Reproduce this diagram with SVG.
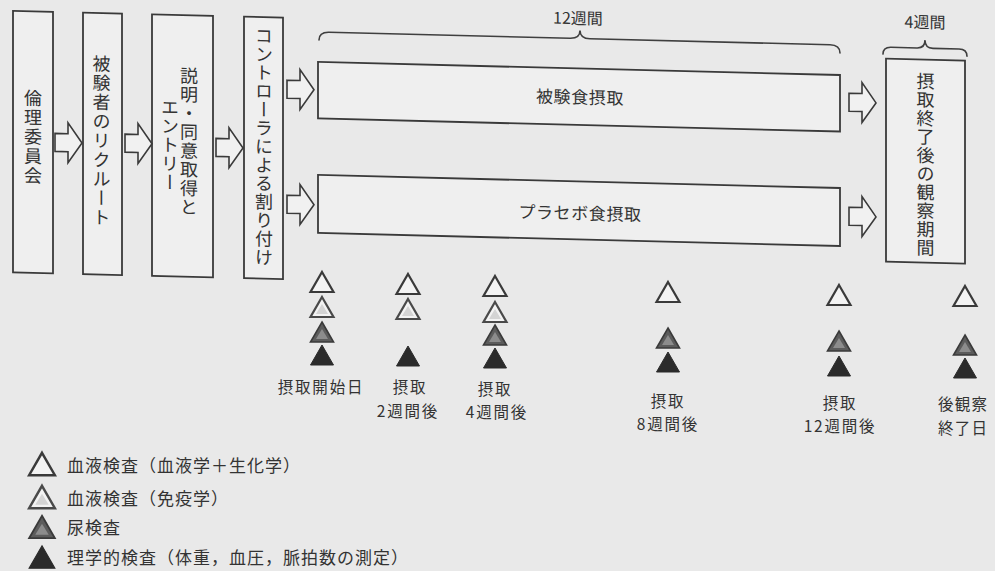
<svg xmlns="http://www.w3.org/2000/svg" width="995" height="571" viewBox="0 0 995 571">
<style>
.bg{fill:#e9e9e9}
.box{fill:#efefef;stroke:#3a3a3a;stroke-width:1.8}
.arr{fill:#f1f1f1;stroke:#3a3a3a;stroke-width:1.6}
.brace{fill:none;stroke:#3f3f3f;stroke-width:1.6;stroke-linecap:round}
text{font-family:"Noto Sans CJK JP","Noto Sans CJK SC",sans-serif;fill:#333}
.v{writing-mode:vertical-rl;font-size:18px}
.h{font-size:17px;letter-spacing:0.6px;text-anchor:middle}
.dur{font-size:16px;text-anchor:middle}
.lbl{font-size:15.5px;letter-spacing:1.8px;text-anchor:middle}
.leg{font-size:17px;letter-spacing:1px}
</style>
<defs>
<path id="arrow" d="M0,-9 H13 V-20 L27,0 L13,20 V9 H0 Z"/>
<path id="tri" d="M0,-10 L11.5,10 L-11.5,10 Z"/>
<g id="tA"><use href="#tri" fill="#f3f3f3" stroke="#3a3a3a" stroke-width="2.2"/></g>
<g id="tB"><use href="#tri" fill="#f3f3f3" stroke="#4a4a4a" stroke-width="2.2"/><path d="M0,-3 L6,7 L-6,7 Z" fill="#d4d4d4"/></g>
<g id="tC"><use href="#tri" fill="#5c5c5c" stroke="#3a3a3a" stroke-width="1.6"/><path d="M0,-3 L6,7 L-6,7 Z" fill="#8c8c8c"/></g>
<g id="tD"><use href="#tri" fill="#2b2b2b" stroke="#2b2b2b" stroke-width="1"/></g>
</defs>
<rect class="bg" x="0" y="0" width="995" height="571"/>

<g transform="matrix(1,0.025,0,1,0,0)">
  <g id="n-ethics">
    <rect class="box" x="13" y="10.5" width="40" height="261.5"/>
    <text class="v" x="33" y="88" style="letter-spacing:1.4px">倫理委員会</text>
  </g>
  <g id="n-recruit">
    <rect class="box" x="83" y="10.5" width="39" height="261.5"/>
    <text class="v" x="101.5" y="52" style="letter-spacing:1.2px">被験者のリクルート</text>
  </g>
  <g id="n-consent">
    <rect class="box" x="152" y="10.5" width="61" height="261.5"/>
    <text class="v" x="189" y="62" style="letter-spacing:0.75px">説明・同意取得と</text>
    <text class="v" x="170" y="94" style="letter-spacing:0.75px">エントリー</text>
  </g>
  <g id="n-allocate">
    <rect class="box" x="244" y="10.5" width="39" height="261.5"/>
    <text class="v" x="264" y="20" style="letter-spacing:0.46px">コントローラによる割り付け</text>
  </g>
  <g id="n-test">
    <rect class="box" x="318" y="54" width="522" height="56.5"/>
    <text class="h" x="580" y="89">被験食摂取</text>
  </g>
  <g id="n-placebo">
    <rect class="box" x="318" y="167" width="522" height="58"/>
    <text class="h" x="580" y="205">プラセボ食摂取</text>
  </g>
  <g id="n-observe">
    <rect class="box" x="886" y="36.5" width="79" height="203"/>
    <text class="v" x="925.5" y="49" style="letter-spacing:0.5px">摂取終了後の観察期間</text>
  </g>
  <g id="durations">
    <path class="brace" d="M319,32 Q319,24 329,24 H570 Q580,24 580,16 Q580,24 590,24 H830 Q840,24 840,32"/>
    <text class="dur" x="578" y="9.7">12週間</text>
    <path class="brace" d="M883,32 Q883,25 891,25 H917 Q925,25 925,17 Q925,25 933,25 H959 Q967,25 967,32"/>
    <text class="dur" x="925" y="5">4週間</text>
  </g>
  <g id="connectors">
    <use href="#arrow" class="arr" x="55" y="141"/>
    <use href="#arrow" class="arr" x="125" y="140"/>
    <use href="#arrow" class="arr" x="216" y="142"/>
    <use href="#arrow" class="arr" x="287" y="82"/>
    <use href="#arrow" class="arr" x="287" y="197"/>
    <use href="#arrow" class="arr" x="849" y="81"/>
    <use href="#arrow" class="arr" x="849" y="195"/>
  </g>
</g>

<g id="timepoints">
  <g id="t-start">
    <use href="#tA" x="322" y="282"/><use href="#tB" x="322" y="307"/><use href="#tC" x="322" y="332"/><use href="#tD" x="322" y="355"/>
    <text class="lbl" x="321" y="393">摂取開始日</text>
  </g>
  <g id="t-2w">
    <use href="#tA" x="408" y="284"/><use href="#tB" x="408" y="309"/><use href="#tD" x="408" y="356"/>
    <text class="lbl" x="410" y="393">摂取</text>
    <text class="lbl" x="408" y="416.5">2週間後</text>
  </g>
  <g id="t-4w">
    <use href="#tA" x="495" y="286"/><use href="#tB" x="495" y="312"/><use href="#tC" x="495" y="335"/><use href="#tD" x="495" y="358"/>
    <text class="lbl" x="495" y="394.5">摂取</text>
    <text class="lbl" x="497" y="418">4週間後</text>
  </g>
  <g id="t-8w">
    <use href="#tA" x="668" y="292"/><use href="#tC" x="668" y="338"/><use href="#tD" x="668" y="362"/>
    <text class="lbl" x="668" y="406.5">摂取</text>
    <text class="lbl" x="668" y="430">8週間後</text>
  </g>
  <g id="t-12w">
    <use href="#tA" x="839" y="295"/><use href="#tC" x="839" y="341"/><use href="#tD" x="839" y="366"/>
    <text class="lbl" x="840" y="408.5">摂取</text>
    <text class="lbl" x="840" y="432">12週間後</text>
  </g>
  <g id="t-end">
    <use href="#tA" x="965" y="296"/><use href="#tC" x="965" y="345"/><use href="#tD" x="965" y="368"/>
    <text class="lbl" x="938" y="410" style="text-anchor:start;letter-spacing:1.2px">後観察</text>
    <text class="lbl" x="938" y="433.5" style="text-anchor:start;letter-spacing:1.2px">終了日</text>
  </g>
</g>

<g id="legend">
  <use href="#tA" transform="translate(42,464) scale(1.12)"/>
  <text class="leg" x="67" y="471.5">血液検査（血液学＋生化学）</text>
  <use href="#tB" transform="translate(42,497) scale(1.12)"/>
  <text class="leg" x="67" y="504.5">血液検査（免疫学）</text>
  <use href="#tC" transform="translate(42,527) scale(1.12)"/>
  <text class="leg" x="67" y="533.5">尿検査</text>
  <use href="#tD" transform="translate(42,557) scale(1.12)"/>
  <text class="leg" x="67" y="563.5">理学的検査（体重，血圧，脈拍数の測定）</text>
</g>
</svg>
